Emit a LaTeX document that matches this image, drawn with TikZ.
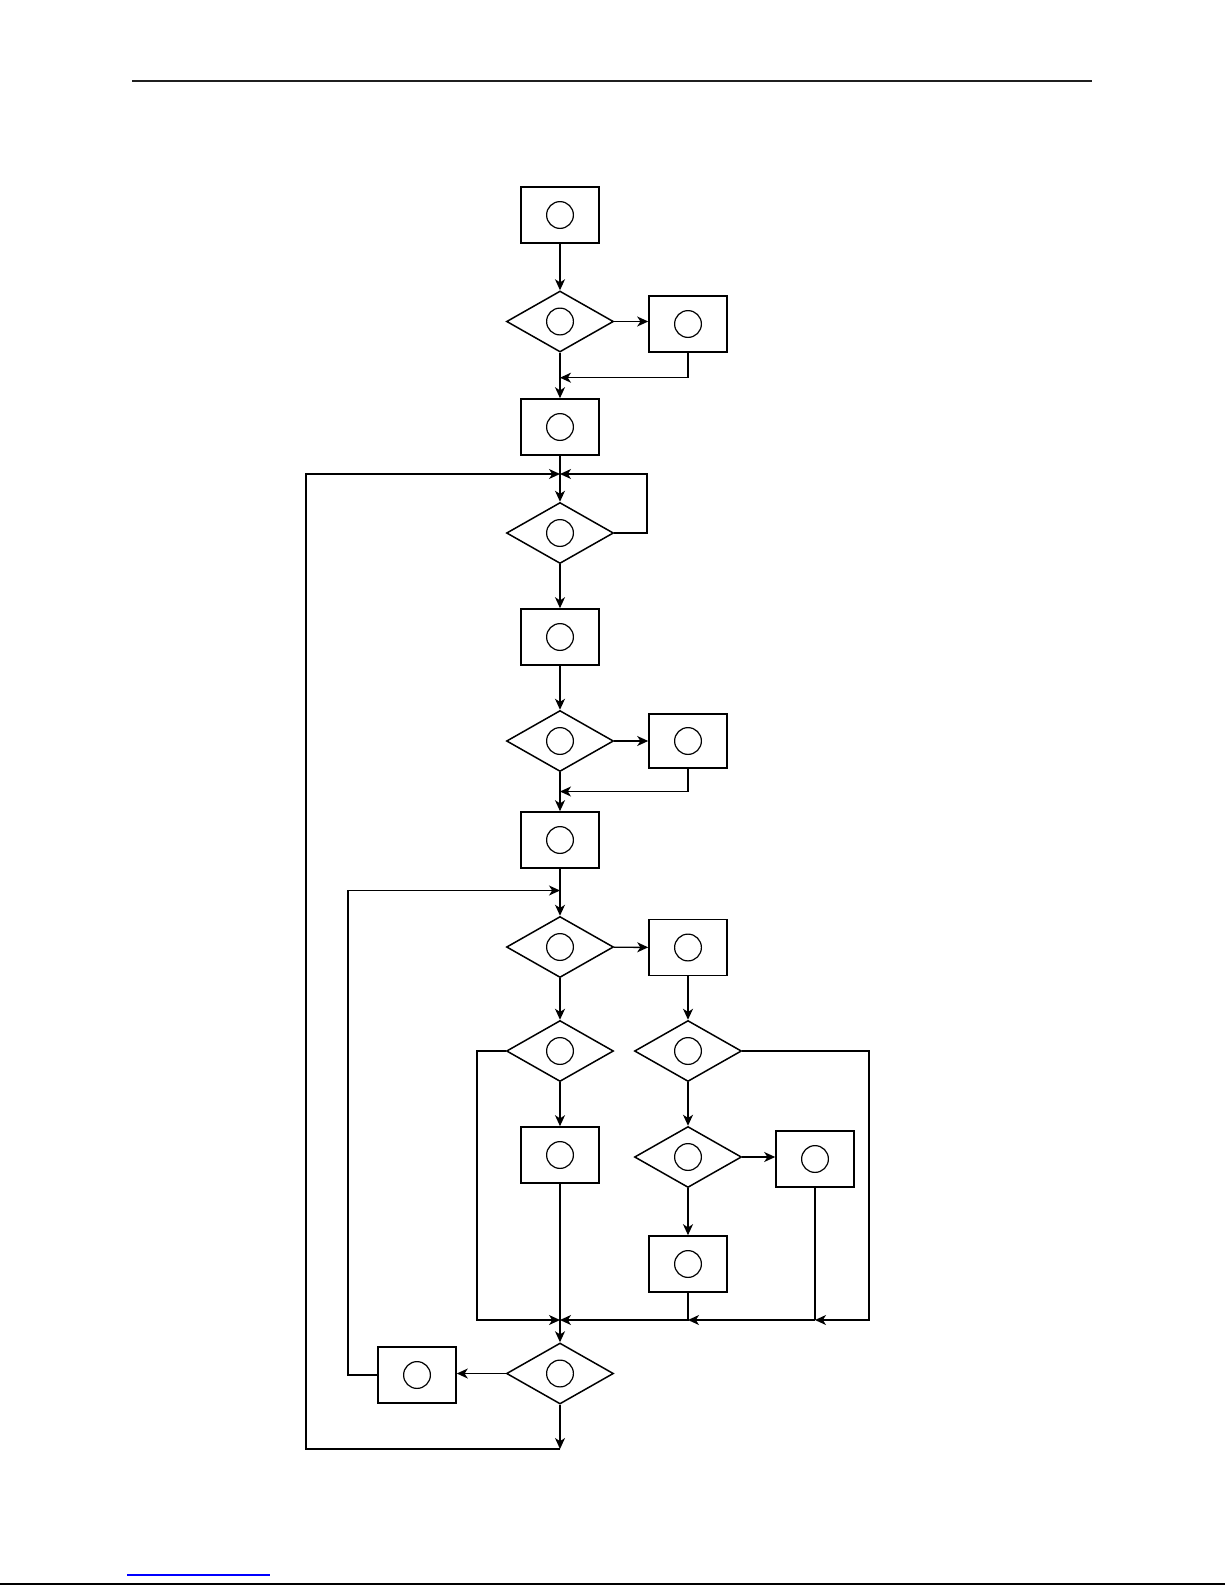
\documentclass[tikz,border=0pt]{standalone}
\usetikzlibrary{shapes.geometric,arrows.meta}
\begin{document}
\begin{tikzpicture}[x=0.5pt,y=-0.5pt,
  box/.style={draw, line width=0.8pt, minimum width=39pt, minimum height=28pt, inner sep=0pt,
    path picture={\draw[line width=0.6pt] (path picture bounding box.center) circle (6.7pt);}},
  dia/.style={diamond, draw, line width=0.75pt, minimum width=53.5pt, minimum height=30.5pt, inner sep=0pt,
    path picture={\draw[line width=0.6pt] (path picture bounding box.center) circle (6.7pt);}},
  arr/.style={-{Stealth[length=5.5pt,width=5pt,inset=1.6pt]}, line width=0.7pt},
  ln/.style={line width=0.7pt}]
\useasboundingbox (0,0) rectangle (1225,1585);
% rules
\draw[line width=1.4pt, black!88] (132,81) -- (1092,81);
\draw[blue, line width=0.9pt] (127,1575) -- (270,1575);
\draw[line width=1.2pt] (0,1584) -- (1225,1584);
% nodes
\node[box] (b1) at (560,215) {};
\node[dia] (d1) at (560,321.5) {};
\node[box] (b2) at (688,324) {};
\node[box] (b3) at (560,427) {};
\node[dia] (d2) at (560,533) {};
\node[box] (b4) at (560,637) {};
\node[dia] (d3) at (560,741) {};
\node[box, minimum height=27pt] (b5) at (688,741) {};
\node[box] (b6) at (560,840) {};
\node[dia] (d4) at (560,947) {};
\node[box] (b7) at (688,947.5) {};
\node[dia] (d5) at (560,1051) {};
\node[dia] (d6) at (688,1051) {};
\node[box] (b8) at (560,1155) {};
\node[dia] (d7) at (688,1157) {};
\node[box] (b9) at (815,1159) {};
\node[box] (b10) at (688,1264) {};
\node[dia] (d8) at (560,1373.5) {};
\node[box] (b11) at (417,1375) {};
% junction coordinates
\coordinate (r1) at (560,377.7);
\coordinate (j1) at (560,474);
\coordinate (l1) at (647,474);
\coordinate (l2) at (306,474);
\coordinate (bot) at (560,1449);
\coordinate (r2) at (560,791.5);
\coordinate (j2) at (560,890.5);
\coordinate (l3) at (348,890.5);
\coordinate (j3) at (560,1320);
\coordinate (l4) at (477,1320);
\coordinate (l5) at (869,1320);
\coordinate (j4) at (688,1320);
\coordinate (j5) at (815,1320);
% connectors
\draw[arr] (b1) -- (d1);
\draw[arr] (d1.east) -- (d1.east -| b2.west);
\draw[arr] (b2.south) |- (r1);
\draw[arr] (d1) -- (b3);
\draw[arr] (b3) -- (d2);
\draw[arr] (d2.east) -| (l1) -- (j1);
\draw[arr] (bot) -| (l2) -- (j1);
\draw[arr] (d2) -- (b4);
\draw[arr] (b4) -- (d3);
\draw[arr] (d3) -- (b5);
\draw[arr] (b5.south) |- (r2);
\draw[arr] (d3) -- (b6);
\draw[arr] (b6) -- (d4);
\draw[arr] (b11.west) -| (l3) -- (j2);
\draw[arr] (d4) -- (b7);
\draw[arr] (d4) -- (d5);
\draw[arr] (b7) -- (d6);
\draw[arr] (d5) -- (b8);
\draw[arr] (d6) -- (d7);
\draw[arr] (d7.east) -- (d7.east -| b9.west);
\draw[arr] (d7) -- (b10);
\draw[arr] (d5.west) -| (l4) -- (j3);
\draw[arr] (b8) -- (d8);
\draw[arr] (b10.south) -- (j4) -- (j3);
\draw[ln] (b9.south) -- (j5);
\draw[arr] (j5) -- (j4);
\draw[arr] (d6.east) -| (l5) -- (j5);
\draw[arr] (d8.west) -- (d8.west -| b11.east);
\draw[arr] (d8) -- (bot);
\end{tikzpicture}
\end{document}
